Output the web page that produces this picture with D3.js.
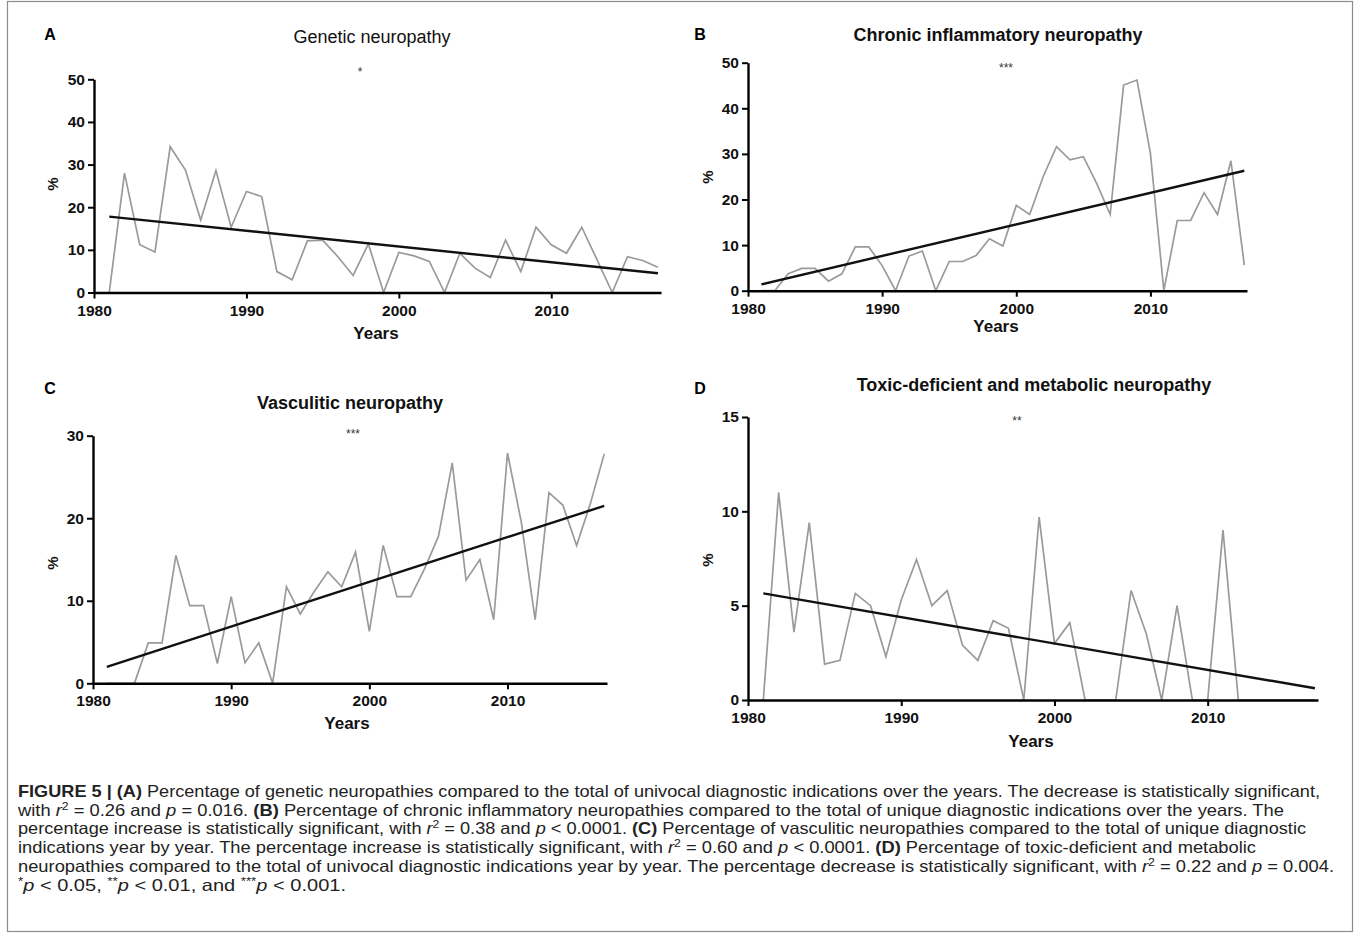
<!DOCTYPE html>
<html><head><meta charset="utf-8">
<script src="https://cdn.jsdelivr.net/npm/d3@7/dist/d3.min.js"></script>
<style>
body{margin:0;background:#fff;}
svg{display:block;font-family:"Liberation Sans",Arial,sans-serif;}
</style></head>
<body>
<svg id="chart" width="1360" height="945"></svg>
<script>
// ---------- data ----------
const years = [1981,1982,1983,1984,1985,1986,1987,1988,1989,1990,1991,1992,1993,1994,1995,1996,1997,1998,1999,2000,
               2001,2002,2003,2004,2005,2006,2007,2008,2009,2010,2011,2012,2013,2014,2015,2016,2017];
const geneticValues = [0,28,11.2,9.5,34.2,28.7,17,28.6,15.3,23.7,22.5,4.9,3,12.1,12.3,8.4,4,11.4,0,9.4,
                       8.6,7.3,0,9.2,5.7,3.5,12.3,4.9,15.3,11.2,9.2,15.3,7.7,0,8.4,7.5,5.9];
const chronicValues = [0,0,3.7,4.9,4.9,2.1,3.7,9.6,9.6,5.5,0,7.6,8.7,0,6.4,6.4,7.7,11.4,9.8,18.7,
                       16.7,25,31.6,28.7,29.4,23.5,16.7,45.1,46.2,30.1,0,15.4,15.4,21.5,16.7,28.5,5.6];
const vasculiticValues = [0,0,0,4.9,4.9,15.5,9.4,9.4,2.4,10.5,2.5,4.9,0,11.7,8.4,11.1,13.5,11.7,15.9,6.3,
                          16.7,10.5,10.5,13.9,17.8,26.7,12.5,15,7.7,27.9,19.5,7.7,23.1,21.6,16.7,21.8,27.8];
const toxicValues = [0,11.0,3.6,9.4,1.9,2.1,5.65,5.0,2.3,5.3,7.45,5.0,5.8,2.9,2.1,4.2,3.8,0,9.7,3.0,
                     4.1,0,0,0,5.8,3.5,0,5.0,0,0,9.0,0,0,0,0,0,0];
const trendYears = [1981, 2017];
const geneticTrend = [17.8, 4.5];
const chronicTrend = [1.4, 26.3];
const vasculiticTrend = [2.0, 21.5];
const toxicTrend = [5.65, 0.62];
const xTicks = [1980, 1990, 2000, 2010];
const ticksAB = [0,10,20,30,40,50];
const ticksC = [0,10,20,30];
const ticksD = [0,5,10,15];
const panelLetters = ["A","B","C","D"];
const panelTitles = ["Genetic neuropathy","Chronic inflammatory neuropathy","Vasculitic neuropathy","Toxic-deficient and metabolic neuropathy"];
const significance = ["*","***","***","**"];
const xLabel = "Years";
const yLabel = "%";

// ---------- layout ----------
const svg = d3.select("#chart");
const panels = [
  {vals:geneticValues, trend:geneticTrend, ticks:ticksAB, ymax:50, x0:94, x1:661, y0:292.5, y1:79.3,
   letter:[50,40], title:[372,43], titleBold:false, star:[360,76], ylab:[53,184], xlab:[376,339]},
  {vals:chronicValues, trend:chronicTrend, ticks:ticksAB, ymax:50, x0:748, x1:1247, y0:290.7, y1:62.7,
   letter:[700,40], title:[998,41], titleBold:true, star:[1006,72], ylab:[708,177], xlab:[996,332]},
  {vals:vasculiticValues, trend:vasculiticTrend, ticks:ticksC, ymax:30, x0:93, x1:607, y0:683.3, y1:435.7,
   letter:[50,394], title:[350,409], titleBold:true, star:[353,438], ylab:[53,563], xlab:[347,729]},
  {vals:toxicValues, trend:toxicTrend, ticks:ticksD, ymax:15, x0:748, x1:1318, y0:700, y1:417,
   letter:[700,394], title:[1034,391], titleBold:true, star:[1017,425], ylab:[708,560], xlab:[1031,747]}
];

// frame
svg.append("rect").attr("x",7.5).attr("y",1.5).attr("width",1345).attr("height",930)
  .attr("fill","none").attr("stroke","#8c8c8c").attr("stroke-width",1.2);

panels.forEach((p,i)=>{
  const x = d3.scaleLinear().domain([1980, 2017.2]).range([p.x0, p.x1]);
  const y = d3.scaleLinear().domain([0, p.ymax]).range([p.y0, p.y1]);
  const g = svg.append("g");

  // data line (gray)
  g.append("path").datum(years.map((yr,k)=>[yr, p.vals[k]]))
    .attr("fill","none").attr("stroke","#9a9a9a").attr("stroke-width",1.7).attr("stroke-linejoin","miter")
    .attr("d", d3.line().x(d=>x(d[0])).y(d=>y(d[1])));
  // trend line
  g.append("path").datum(trendYears.map((yr,k)=>[yr, p.trend[k]]))
    .attr("fill","none").attr("stroke","#111").attr("stroke-width",2.4)
    .attr("d", d3.line().x(d=>x(d[0])).y(d=>y(d[1])));

  // axes
  const xa = g.append("g").attr("transform",`translate(0,${p.y0})`)
    .call(d3.axisBottom(x).tickValues(xTicks).tickFormat(d3.format("d")).tickSize(6).tickPadding(6).tickSizeOuter(0));
  const ya = g.append("g").attr("transform",`translate(${p.x0},0)`)
    .call(d3.axisLeft(y).tickValues(p.ticks).tickFormat(d3.format("d")).tickSize(6).tickPadding(3).tickSizeOuter(0));
  [xa,ya].forEach(a=>{
    a.select(".domain").attr("stroke","#000").attr("stroke-width",2.4);
    a.selectAll(".tick line").attr("stroke","#000").attr("stroke-width",2);
    a.selectAll(".tick text").attr("fill","#111").attr("font-size",15.5).attr("font-weight","bold")
      .attr("font-family","'Liberation Sans',Arial,sans-serif");
  });

  // labels
  svg.append("text").attr("x",p.letter[0]).attr("y",p.letter[1]).text(panelLetters[i])
    .attr("font-size",16).attr("font-weight","bold").attr("fill","#000").attr("text-anchor","middle");
  svg.append("text").attr("x",p.title[0]).attr("y",p.title[1]).text(panelTitles[i])
    .attr("font-size",18).attr("font-weight",p.titleBold?"bold":"normal").attr("fill","#111").attr("text-anchor","middle");
  svg.append("text").attr("x",p.star[0]).attr("y",p.star[1]).text(significance[i])
    .attr("font-size",12).attr("fill","#333").attr("text-anchor","middle");
  svg.append("text").attr("transform",`translate(${p.ylab[0]},${p.ylab[1]}) rotate(-90)`).text(yLabel)
    .attr("font-size",15).attr("font-weight","bold").attr("fill","#111").attr("text-anchor","middle").attr("dy","0.35em");
  svg.append("text").attr("x",p.xlab[0]).attr("y",p.xlab[1]).text(xLabel)
    .attr("font-size",17).attr("font-weight","bold").attr("fill","#111").attr("text-anchor","middle");
});

// ---------- caption ----------
const captionLines = [
  [["b","FIGURE 5 | (A)"],["n"," Percentage of genetic neuropathies compared to the total of univocal diagnostic indications over the years. The decrease is statistically significant,"]],
  [["n","with "],["i","r"],["sup","2"],["n"," = 0.26 and "],["i","p"],["n"," = 0.016. "],["b","(B)"],["n"," Percentage of chronic inflammatory neuropathies compared to the total of unique diagnostic indications over the years. The"]],
  [["n","percentage increase is statistically significant, with "],["i","r"],["sup","2"],["n"," = 0.38 and "],["i","p"],["n"," < 0.0001. "],["b","(C)"],["n"," Percentage of vasculitic neuropathies compared to the total of unique diagnostic"]],
  [["n","indications year by year. The percentage increase is statistically significant, with "],["i","r"],["sup","2"],["n"," = 0.60 and "],["i","p"],["n"," < 0.0001. "],["b","(D)"],["n"," Percentage of toxic-deficient and metabolic"]],
  [["n","neuropathies compared to the total of univocal diagnostic indications year by year. The percentage decrease is statistically significant, with "],["i","r"],["sup","2"],["n"," = 0.22 and "],["i","p"],["n"," = 0.004."]],
  [["sup","*"],["i","p"],["n"," < 0.05, "],["sup","**"],["i","p"],["n"," < 0.01, and "],["sup","***"],["i","p"],["n"," < 0.001."]]
];
const captionRight = [1320, 1284, 1306, 1256, 1334, 346];
captionLines.forEach((segs,li)=>{
  const t = svg.append("text").attr("x",18).attr("y",797 + li*18.7)
    .attr("font-size",16.5).attr("fill","#222")
    .attr("textLength", captionRight[li]-18).attr("lengthAdjust","spacingAndGlyphs");
  let shifted = false;
  segs.forEach(([st,txt])=>{
    const ts = t.append("tspan").text(txt);
    if (st==="b") ts.attr("font-weight","bold");
    if (st==="i") ts.attr("font-style","italic");
    if (st==="sup") { ts.attr("font-size",11).attr("dy",-6); shifted = true; }
    else if (shifted) { ts.attr("dy",6); shifted = false; }
  });
});
</script>
</body></html>
